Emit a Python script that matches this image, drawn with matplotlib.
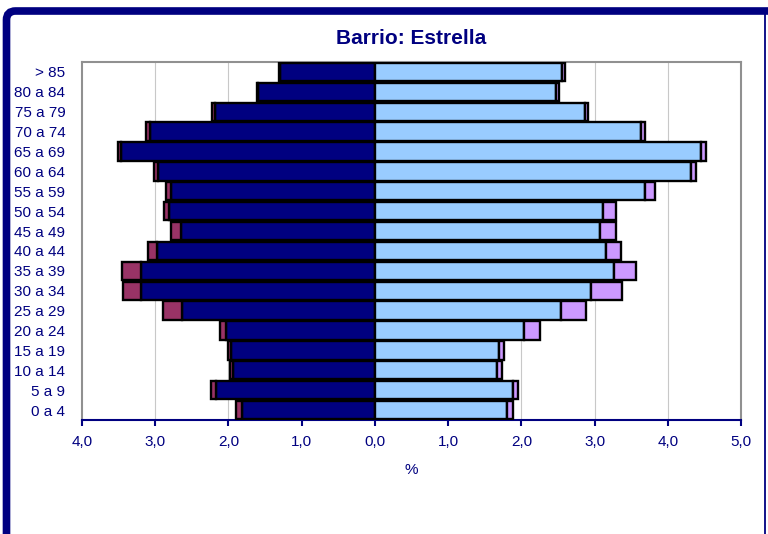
import numpy as np
from matplotlib import pyplot as plt
from matplotlib.patches import FancyBboxPatch
from matplotlib.lines import Line2D
from matplotlib.transforms import IdentityTransform

plt.rcParams['font.family'] = ['Liberation Sans', 'DejaVu Sans']

# Age groups, bottom to top
ages = ['0 a 4', '5 a 9', '10 a 14', '15 a 19', '20 a 24', '25 a 29', '30 a 34',
        '35 a 39', '40 a 44', '45 a 49', '50 a 54', '55 a 59', '60 a 64',
        '65 a 69', '70 a 74', '75 a 79', '80 a 84', '> 85']

# Men (%)
men_native = [1.82, 2.17, 1.94, 1.96, 2.03, 2.64, 3.19, 3.19, 2.97, 2.65,
              2.81, 2.79, 2.96, 3.47, 3.07, 2.19, 1.59, 1.29]
men_foreign = [0.08, 0.07, 0.04, 0.05, 0.09, 0.25, 0.25, 0.27, 0.13, 0.13,
               0.07, 0.06, 0.05, 0.04, 0.05, 0.03, 0.02, 0.02]

# Women (%)
women_native = [1.81, 1.89, 1.67, 1.69, 2.04, 2.54, 2.95, 3.26, 3.15, 3.07,
                3.11, 3.69, 4.32, 4.46, 3.63, 2.87, 2.47, 2.56]
women_foreign = [0.07, 0.06, 0.06, 0.08, 0.22, 0.34, 0.43, 0.30, 0.21, 0.22,
                 0.18, 0.14, 0.06, 0.06, 0.06, 0.04, 0.04, 0.04]

x_ticks = [-4, -3, -2, -1, 0, 1, 2, 3, 4, 5]

navy = '#000080'

fig = plt.figure(figsize=(7.68, 5.34), dpi=100)
ax = fig.add_axes([82 / 768, 1 - 420 / 534, 659 / 768, 358 / 534])

y = np.arange(len(ages))
mn = -np.array(men_native)
mf = -np.array(men_foreign)
wn = np.array(women_native)
wf = np.array(women_foreign)

h = 0.92
ax.barh(y, mn, height=h, color=navy, edgecolor='black', lw=1.7, zorder=3)
ax.barh(y, mf, left=mn, height=h, color='#993366', edgecolor='black', lw=1.7, zorder=3)
ax.barh(y, wn, height=h, color='#99CCFF', edgecolor='black', lw=1.7, zorder=3)
ax.barh(y, wf, left=wn, height=h, color='#CC99FF', edgecolor='black', lw=1.7, zorder=3)

ax.set_xlim(-4, 5)
ax.set_ylim(-0.5, len(ages) - 0.5)

# Vertical gridlines
for t in x_ticks:
    if t not in (-4, 0, 5):
        ax.axvline(t, color='#C8C8C8', lw=0.8, zorder=1)

ax.set_xticks(x_ticks)
ax.set_xticklabels([f'{abs(t):.1f}'.replace('.', ',') for t in x_ticks])
ax.set_yticks(y)
ax.set_yticklabels(ages)
ax.tick_params(axis='x', direction='out', length=4, width=1.5, color=navy,
               labelcolor=navy, labelsize=11, pad=7)
ax.tick_params(axis='y', length=0, labelcolor=navy, labelsize=11, pad=12)

for side in ['top', 'left', 'right']:
    ax.spines[side].set_color('#909090')
    ax.spines[side].set_linewidth(1.5)
ax.spines['bottom'].set_color(navy)
ax.spines['bottom'].set_linewidth(1.5)

ax.set_xlabel('%', color=navy, fontsize=11, labelpad=10)
fig.text(411 / 768, 1 - 38.5 / 534, 'Barrio: Estrella', color=navy, fontsize=15,
         fontweight='bold', ha='center', va='center')

# Outer frame
frame = FancyBboxPatch((6.5, -40), 800, 534 - 11 + 40,
                       boxstyle='round,pad=0,rounding_size=9',
                       fill=False, edgecolor=navy, lw=5.5,
                       transform=IdentityTransform())
fig.patches.append(frame)
fig.lines.append(Line2D([765, 765], [0, 534 - 11], color=navy, lw=1.3,
                        transform=IdentityTransform()))

plt.savefig('out.png', dpi=100)
plt.close(fig)
